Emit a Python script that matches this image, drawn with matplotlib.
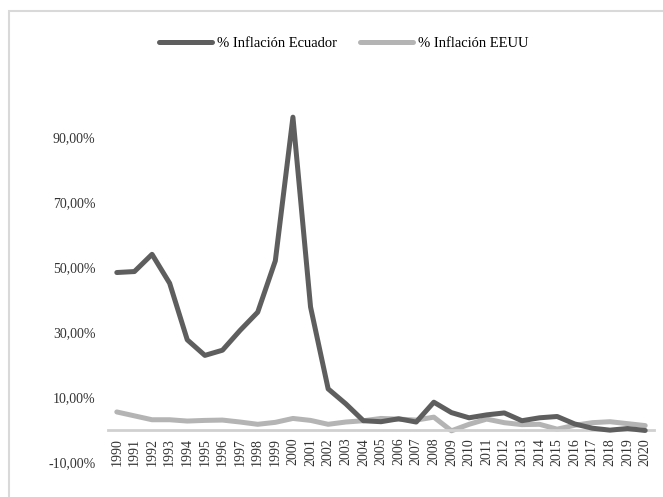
import matplotlib
matplotlib.use("Agg")
import matplotlib.pyplot as plt
from matplotlib.patches import Rectangle
from matplotlib.ticker import FuncFormatter

years = [str(y) for y in range(1990, 2021)]
ecuador = [48.3, 48.6, 53.9, 45.0, 27.6, 22.8, 24.4, 30.5, 36.1, 51.9,
           96.1, 37.7, 12.5, 7.9, 2.7, 2.4, 3.3, 2.3, 8.4, 5.2,
           3.6, 4.5, 5.1, 2.7, 3.6, 4.0, 1.7, 0.4, -0.2, 0.3, -0.3]
eeuu = [5.4, 4.2, 3.0, 3.0, 2.6, 2.8, 2.9, 2.3, 1.6, 2.2,
        3.4, 2.8, 1.6, 2.3, 2.7, 3.4, 3.2, 2.9, 3.8, -0.4,
        1.6, 3.2, 2.1, 1.5, 1.6, 0.1, 1.3, 2.1, 2.4, 1.8, 1.2]
yticks = [-10, 10, 30, 50, 70, 90]

plt.rcParams['font.family'] = ['Liberation Serif', 'DejaVu Serif']

fig = plt.figure(figsize=(6.63, 4.97), dpi=100)
ax = fig.add_axes([108 / 663, 35 / 497, 546 / 663, 390 / 497])

x = list(range(len(years)))
ax.plot(x, ecuador, color='#5e5e5e', lw=3.6, label='% Inflación Ecuador', solid_capstyle='round', zorder=3)
ax.plot(x, eeuu, color='#b4b4b4', lw=3.6, label='% Inflación EEUU', solid_capstyle='round', zorder=2)

ax.set_xlim(-0.5, len(years) - 0.5)
ax.set_ylim(-10, 110)
ax.set_yticks(yticks)
ax.yaxis.set_major_formatter(FuncFormatter(lambda v, p: f"{v:.2f}%".replace('.', ',')))
ax.set_xticks(x)
ax.set_xticklabels(years)

for s in ['top', 'right', 'left']:
    ax.spines[s].set_visible(False)
ax.spines['bottom'].set_position(('data', 0))
ax.spines['bottom'].set_color('#d0d0d0')
ax.spines['bottom'].set_linewidth(2)
ax.tick_params(axis='both', length=0, labelsize=10, colors='#333333')
ax.tick_params(axis='x', labelrotation=90, pad=6)
ax.tick_params(axis='y', pad=9)

fig.legend(loc='center', bbox_to_anchor=(344 / 663, 1 - 43 / 497), ncol=2, frameon=False,
           fontsize=10.5, handlelength=3.6, columnspacing=1.6, handletextpad=0.35)

# chart frame
fig.patches.append(Rectangle((9 / 663, -0.01), 1, 1 - 11 / 497 + 0.01, transform=fig.transFigure,
                             fill=False, edgecolor='#d9d9d9', lw=1.5))

fig.savefig('out.png', dpi=100)
